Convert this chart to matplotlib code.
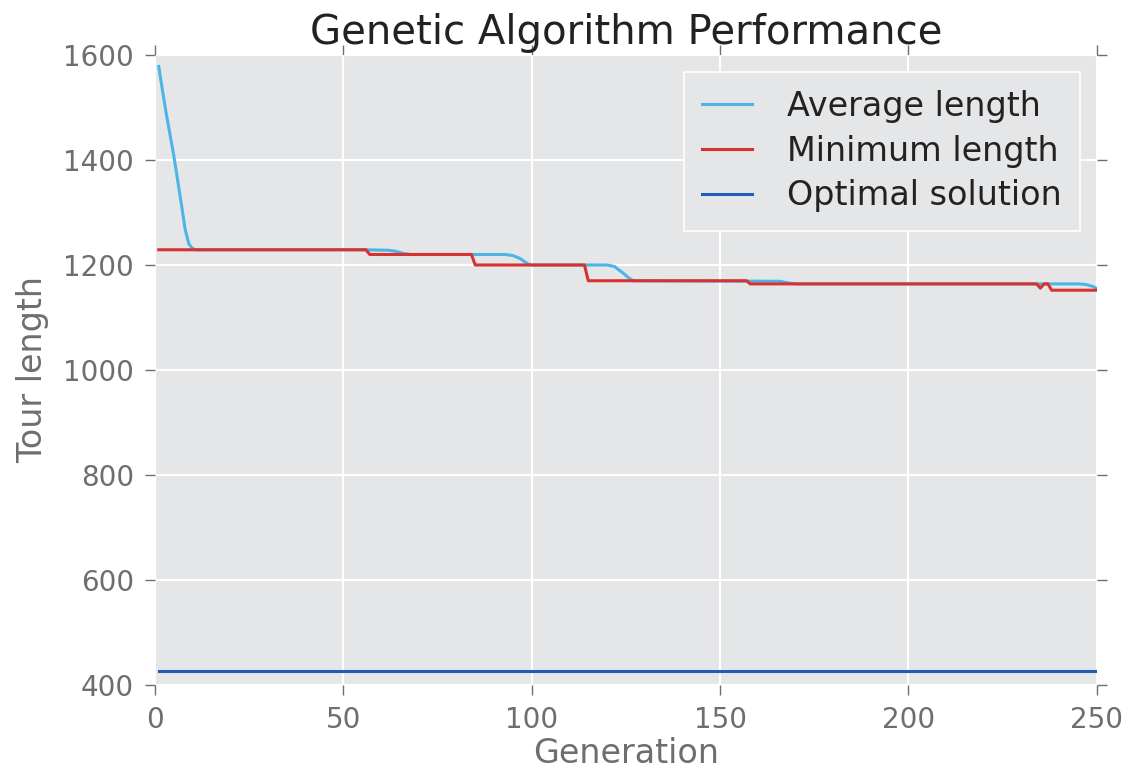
import matplotlib
matplotlib.use("Agg")
import matplotlib.pyplot as plt

# Average tour length per generation (key points)
avg_gen = [1, 2, 3, 4, 5, 6, 7, 8, 9, 10, 11, 56, 62, 64, 66, 68, 93, 95, 97, 99, 100,
           120, 122, 124, 126, 127, 166, 168, 170, 245, 247, 249, 250]
avg_len = [1578, 1532, 1488, 1448, 1408, 1362, 1316, 1268, 1240, 1231, 1229, 1229, 1228,
           1226, 1222, 1220, 1220, 1218, 1212, 1202, 1200, 1200, 1197, 1186, 1174, 1170,
           1169, 1166, 1164, 1164, 1163, 1159, 1155]

# Minimum tour length per generation (step changes)
min_gen = [1, 56, 57, 84, 85, 114, 115, 157, 158, 234, 235, 236, 237, 238, 250]
min_len = [1229, 1229, 1220, 1220, 1200, 1200, 1170, 1170, 1164, 1164, 1156, 1164, 1164,
           1152, 1152]

# Optimal solution
opt_gen = [1, 250]
opt_len = [426, 426]

xticks = [0, 50, 100, 150, 200, 250]
yticks = [400, 600, 800, 1000, 1200, 1400, 1600]

tick_col = "#6E6E72"
bg = "#E5E6E8"
fig = plt.figure(figsize=(11.28, 7.81), dpi=100)
ax = fig.add_axes([0.1374, 0.1229, 0.835, 0.8067])
ax.set_facecolor(bg)
for s in ax.spines.values():
    s.set_visible(False)
ax.grid(True, color="white", linewidth=1.5)
ax.set_axisbelow(True)

ax.plot(avg_gen, avg_len, color="#4BB6E6", lw=2.2, label="Average length")
ax.plot(min_gen, min_len, color="#D93030", lw=2.2, label="Minimum length")
ax.plot(opt_gen, opt_len, color="#1F5EB0", lw=2.2, label="Optimal solution")

ax.set_xlim(0, 250)
ax.set_ylim(400, 1600)
ax.set_xticks(xticks)
ax.set_yticks(yticks)
ax.tick_params(axis="both", which="both", direction="out", length=7, width=1,
               color=tick_col, labelcolor=tick_col, labelsize=20,
               top=True, right=True, labeltop=False, labelright=False, pad=8)

ax.set_title("Genetic Algorithm Performance", fontsize=29, color="#222222", pad=8)
ax.set_xlabel("Generation", fontsize=24, color=tick_col, labelpad=2)
ax.set_ylabel("Tour length", fontsize=24, color=tick_col, labelpad=10)

leg = ax.legend(loc="upper right", fontsize=24, facecolor=bg, edgecolor="white",
                framealpha=1, fancybox=False, handlelength=1.5, handletextpad=1.05,
                borderaxespad=0.5, borderpad=0.55, labelspacing=0.35)
leg.get_frame().set_linewidth(1.2)
for t in leg.get_texts():
    t.set_color("#222222")

fig.savefig("out.png", dpi=100)
